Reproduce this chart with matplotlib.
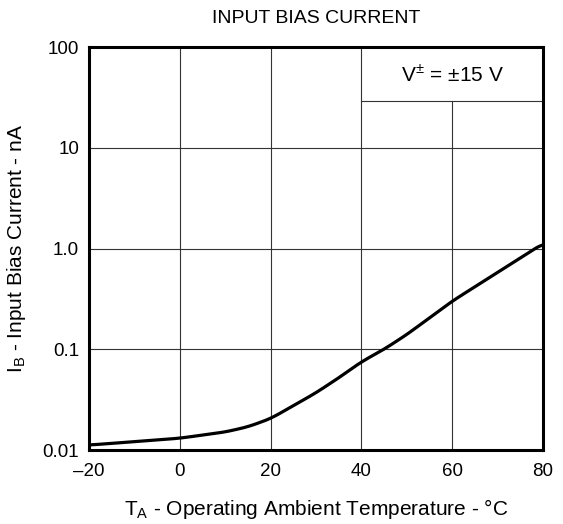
import matplotlib
import matplotlib.pyplot as plt
import numpy as np

matplotlib.use("Agg")

plt.rcParams["font.family"] = ["Liberation Sans", "DejaVu Sans"]
plt.rcParams["mathtext.fontset"] = "custom"
plt.rcParams["mathtext.rm"] = "Liberation Sans"

# temperature (°C) vs input bias current (nA)
temp = [-20, -10, 0, 10, 15, 20, 25, 30, 35, 40, 45, 50, 60, 70, 80]
ib = [0.0112, 0.0121, 0.0131, 0.0151, 0.0170, 0.0205, 0.0275, 0.037, 0.052,
      0.075, 0.100, 0.140, 0.30, 0.58, 1.12]

x_ticks = [-20, 0, 20, 40, 60, 80]
x_labels = ["\u201320", "0", "20", "40", "60", "80"]
y_ticks = [0.01, 0.1, 1.0, 10, 100]
y_labels = ["0.01", "0.1", "1.0", "10", "100"]

fig = plt.figure(figsize=(5.63, 5.24), dpi=100)
ax = fig.add_axes([0.158, 0.1412, 0.8065, 0.7691])

# smooth the points in log space
tt = np.linspace(temp[0], temp[-1], 400)
ll = np.interp(tt, temp, np.log10(ib))
k = np.ones(15) / 15
ll_s = np.convolve(np.pad(ll, 7, mode="edge"), k, mode="valid")
ax.plot(tt, 10 ** ll_s, color="black", lw=2.3, solid_capstyle="butt", zorder=3)

ax.set_yscale("log")
ax.set_xlim(-20, 80)
ax.set_ylim(0.01, 100)
ax.set_xticks(x_ticks)
ax.set_xticklabels(x_labels)
ax.set_yticks(y_ticks)
ax.set_yticklabels(y_labels)
ax.minorticks_off()
ax.tick_params(length=0, labelsize=13.5)
ax.tick_params(axis="x", pad=9.5)
ax.tick_params(axis="y", pad=7)

# grid, with the legend box cut out at top right
box_bottom = 29.0
for xv in [0, 20, 40]:
    ax.plot([xv, xv], [0.01, 100], color="#333333", lw=0.8, zorder=1)
ax.plot([60, 60], [0.01, box_bottom], color="#333333", lw=0.8, zorder=1)
for yv in [0.1, 1.0, 10]:
    ax.plot([-20, 80], [yv, yv], color="#333333", lw=0.8, zorder=1)
ax.plot([40, 80], [box_bottom, box_bottom], color="#333333", lw=0.8, zorder=1)
ax.text(60, 10 ** ((2 + np.log10(box_bottom)) / 2), "V$^{\\pm}$ = \u00b115 V",
        ha="center", va="center", fontsize=15)

for s in ax.spines.values():
    s.set_linewidth(2.2)

ax.set_title("INPUT BIAS CURRENT", fontsize=14, pad=17)
ax.set_xlabel("T$_\\mathregular{A}$ - Operating Ambient Temperature - \u00b0C", fontsize=15)
ax.set_ylabel("I$_\\mathregular{B}$ - Input Bias Current - nA", fontsize=15)
ax.xaxis.set_label_coords(0.5, -0.117)
ax.yaxis.set_label_coords(-0.134, 0.5)

fig.savefig("out.png", dpi=100)
